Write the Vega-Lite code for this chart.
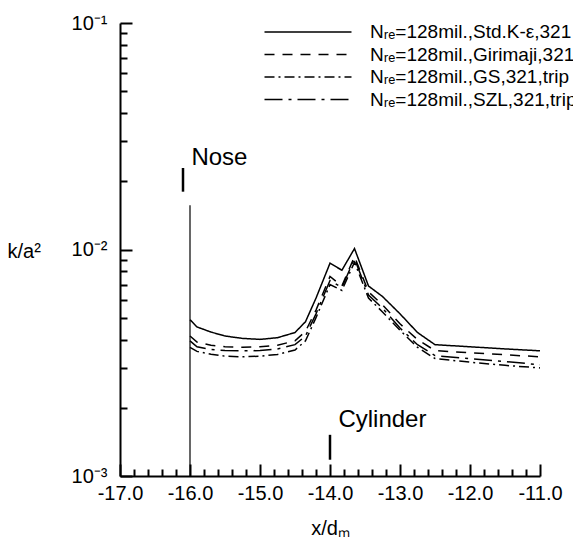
{
  "$schema": "https://vega.github.io/schema/vega-lite/v6.json",
  "width": 420,
  "height": 453,
  "autosize": {"type": "none"},
  "padding": {"left": 120, "top": 23, "right": 33, "bottom": 82},
  "background": "white",
  "config": {
    "view": {"stroke": null},
    "font": "Liberation Sans",
    "axis": {
      "domainColor": "black",
      "domainWidth": 2,
      "labelColor": "black",
      "labelFont": "Liberation Sans",
      "labelFontSize": 20,
      "titleColor": "black",
      "titleFont": "Liberation Sans",
      "titleFontSize": 20,
      "titleFontWeight": "normal",
      "grid": false
    },
    "legend": {
      "orient": "none",
      "legendX": 176,
      "legendY": -3,
      "title": null,
      "padding": 0,
      "symbolType": "M-4,0H4",
      "symbolSize": 473,
      "symbolStrokeWidth": 1.5,
      "symbolStrokeColor": "black",
      "symbolFillColor": "transparent",
      "labelFont": "Liberation Sans",
      "labelFontSize": 19,
      "labelColor": "black",
      "labelOffset": 50,
      "labelLimit": 0,
      "rowPadding": 0.5
    }
  },
  "resolve": {"axis": {"x": "independent", "y": "independent"}},
  "datasets": {
    "curves": [
      {"series": "Nᵣₑ=128mil.,Std.K-ε,321", "x": -16.0, "k": 0.0049},
      {"series": "Nᵣₑ=128mil.,Std.K-ε,321", "x": -15.9, "k": 0.00455},
      {"series": "Nᵣₑ=128mil.,Std.K-ε,321", "x": -15.7, "k": 0.00432},
      {"series": "Nᵣₑ=128mil.,Std.K-ε,321", "x": -15.5, "k": 0.00415},
      {"series": "Nᵣₑ=128mil.,Std.K-ε,321", "x": -15.25, "k": 0.00405},
      {"series": "Nᵣₑ=128mil.,Std.K-ε,321", "x": -15.0, "k": 0.00401},
      {"series": "Nᵣₑ=128mil.,Std.K-ε,321", "x": -14.75, "k": 0.00408},
      {"series": "Nᵣₑ=128mil.,Std.K-ε,321", "x": -14.5, "k": 0.0043},
      {"series": "Nᵣₑ=128mil.,Std.K-ε,321", "x": -14.35, "k": 0.0048},
      {"series": "Nᵣₑ=128mil.,Std.K-ε,321", "x": -14.2, "k": 0.0061},
      {"series": "Nᵣₑ=128mil.,Std.K-ε,321", "x": -14.0, "k": 0.0087},
      {"series": "Nᵣₑ=128mil.,Std.K-ε,321", "x": -13.83, "k": 0.0081},
      {"series": "Nᵣₑ=128mil.,Std.K-ε,321", "x": -13.65, "k": 0.0101},
      {"series": "Nᵣₑ=128mil.,Std.K-ε,321", "x": -13.45, "k": 0.0069},
      {"series": "Nᵣₑ=128mil.,Std.K-ε,321", "x": -13.25, "k": 0.0062},
      {"series": "Nᵣₑ=128mil.,Std.K-ε,321", "x": -13.0, "k": 0.0052},
      {"series": "Nᵣₑ=128mil.,Std.K-ε,321", "x": -12.75, "k": 0.0043},
      {"series": "Nᵣₑ=128mil.,Std.K-ε,321", "x": -12.5, "k": 0.0038},
      {"series": "Nᵣₑ=128mil.,Std.K-ε,321", "x": -12.0, "k": 0.00372},
      {"series": "Nᵣₑ=128mil.,Std.K-ε,321", "x": -11.5, "k": 0.00364},
      {"series": "Nᵣₑ=128mil.,Std.K-ε,321", "x": -11.0, "k": 0.00357},

      {"series": "Nᵣₑ=128mil.,Girimaji,321", "x": -16.0, "k": 0.00415},
      {"series": "Nᵣₑ=128mil.,Girimaji,321", "x": -15.9, "k": 0.0039},
      {"series": "Nᵣₑ=128mil.,Girimaji,321", "x": -15.7, "k": 0.00378},
      {"series": "Nᵣₑ=128mil.,Girimaji,321", "x": -15.5, "k": 0.00372},
      {"series": "Nᵣₑ=128mil.,Girimaji,321", "x": -15.25, "k": 0.0037},
      {"series": "Nᵣₑ=128mil.,Girimaji,321", "x": -15.0, "k": 0.00372},
      {"series": "Nᵣₑ=128mil.,Girimaji,321", "x": -14.75, "k": 0.00378},
      {"series": "Nᵣₑ=128mil.,Girimaji,321", "x": -14.5, "k": 0.00395},
      {"series": "Nᵣₑ=128mil.,Girimaji,321", "x": -14.35, "k": 0.00435},
      {"series": "Nᵣₑ=128mil.,Girimaji,321", "x": -14.2, "k": 0.0054},
      {"series": "Nᵣₑ=128mil.,Girimaji,321", "x": -14.0, "k": 0.0076},
      {"series": "Nᵣₑ=128mil.,Girimaji,321", "x": -13.83, "k": 0.0069},
      {"series": "Nᵣₑ=128mil.,Girimaji,321", "x": -13.65, "k": 0.0093},
      {"series": "Nᵣₑ=128mil.,Girimaji,321", "x": -13.45, "k": 0.0065},
      {"series": "Nᵣₑ=128mil.,Girimaji,321", "x": -13.25, "k": 0.0057},
      {"series": "Nᵣₑ=128mil.,Girimaji,321", "x": -13.0, "k": 0.0047},
      {"series": "Nᵣₑ=128mil.,Girimaji,321", "x": -12.75, "k": 0.004},
      {"series": "Nᵣₑ=128mil.,Girimaji,321", "x": -12.5, "k": 0.00358},
      {"series": "Nᵣₑ=128mil.,Girimaji,321", "x": -12.0, "k": 0.0035},
      {"series": "Nᵣₑ=128mil.,Girimaji,321", "x": -11.5, "k": 0.00343},
      {"series": "Nᵣₑ=128mil.,Girimaji,321", "x": -11.0, "k": 0.00336},

      {"series": "Nᵣₑ=128mil.,GS,321,trip", "x": -16.0, "k": 0.0037},
      {"series": "Nᵣₑ=128mil.,GS,321,trip", "x": -15.9, "k": 0.00355},
      {"series": "Nᵣₑ=128mil.,GS,321,trip", "x": -15.7, "k": 0.00345},
      {"series": "Nᵣₑ=128mil.,GS,321,trip", "x": -15.5, "k": 0.00338},
      {"series": "Nᵣₑ=128mil.,GS,321,trip", "x": -15.25, "k": 0.00336},
      {"series": "Nᵣₑ=128mil.,GS,321,trip", "x": -15.0, "k": 0.00338},
      {"series": "Nᵣₑ=128mil.,GS,321,trip", "x": -14.75, "k": 0.00344},
      {"series": "Nᵣₑ=128mil.,GS,321,trip", "x": -14.5, "k": 0.0036},
      {"series": "Nᵣₑ=128mil.,GS,321,trip", "x": -14.35, "k": 0.00395},
      {"series": "Nᵣₑ=128mil.,GS,321,trip", "x": -14.2, "k": 0.005},
      {"series": "Nᵣₑ=128mil.,GS,321,trip", "x": -14.0, "k": 0.007},
      {"series": "Nᵣₑ=128mil.,GS,321,trip", "x": -13.83, "k": 0.0066},
      {"series": "Nᵣₑ=128mil.,GS,321,trip", "x": -13.65, "k": 0.0088},
      {"series": "Nᵣₑ=128mil.,GS,321,trip", "x": -13.45, "k": 0.0061},
      {"series": "Nᵣₑ=128mil.,GS,321,trip", "x": -13.25, "k": 0.0053},
      {"series": "Nᵣₑ=128mil.,GS,321,trip", "x": -13.0, "k": 0.0044},
      {"series": "Nᵣₑ=128mil.,GS,321,trip", "x": -12.75, "k": 0.0037},
      {"series": "Nᵣₑ=128mil.,GS,321,trip", "x": -12.5, "k": 0.0033},
      {"series": "Nᵣₑ=128mil.,GS,321,trip", "x": -12.0, "k": 0.00318},
      {"series": "Nᵣₑ=128mil.,GS,321,trip", "x": -11.5, "k": 0.00308},
      {"series": "Nᵣₑ=128mil.,GS,321,trip", "x": -11.0, "k": 0.003},

      {"series": "Nᵣₑ=128mil.,SZL,321,trip", "x": -16.0, "k": 0.00395},
      {"series": "Nᵣₑ=128mil.,SZL,321,trip", "x": -15.9, "k": 0.00372},
      {"series": "Nᵣₑ=128mil.,SZL,321,trip", "x": -15.7, "k": 0.00362},
      {"series": "Nᵣₑ=128mil.,SZL,321,trip", "x": -15.5, "k": 0.00358},
      {"series": "Nᵣₑ=128mil.,SZL,321,trip", "x": -15.25, "k": 0.00357},
      {"series": "Nᵣₑ=128mil.,SZL,321,trip", "x": -15.0, "k": 0.00358},
      {"series": "Nᵣₑ=128mil.,SZL,321,trip", "x": -14.75, "k": 0.00364},
      {"series": "Nᵣₑ=128mil.,SZL,321,trip", "x": -14.5, "k": 0.0038},
      {"series": "Nᵣₑ=128mil.,SZL,321,trip", "x": -14.35, "k": 0.00415},
      {"series": "Nᵣₑ=128mil.,SZL,321,trip", "x": -14.2, "k": 0.0052},
      {"series": "Nᵣₑ=128mil.,SZL,321,trip", "x": -14.0, "k": 0.0073},
      {"series": "Nᵣₑ=128mil.,SZL,321,trip", "x": -13.83, "k": 0.0068},
      {"series": "Nᵣₑ=128mil.,SZL,321,trip", "x": -13.65, "k": 0.0091},
      {"series": "Nᵣₑ=128mil.,SZL,321,trip", "x": -13.45, "k": 0.0063},
      {"series": "Nᵣₑ=128mil.,SZL,321,trip", "x": -13.25, "k": 0.0055},
      {"series": "Nᵣₑ=128mil.,SZL,321,trip", "x": -13.0, "k": 0.0045},
      {"series": "Nᵣₑ=128mil.,SZL,321,trip", "x": -12.75, "k": 0.0038},
      {"series": "Nᵣₑ=128mil.,SZL,321,trip", "x": -12.5, "k": 0.0034},
      {"series": "Nᵣₑ=128mil.,SZL,321,trip", "x": -12.0, "k": 0.0033},
      {"series": "Nᵣₑ=128mil.,SZL,321,trip", "x": -11.5, "k": 0.0032},
      {"series": "Nᵣₑ=128mil.,SZL,321,trip", "x": -11.0, "k": 0.0031}
    ],
    "noseLine": [{"x": -16.0, "k": 0.001, "k2": 0.0157}],
    "markers": [
      {"x": -16.1, "k": 0.018, "k2": 0.0229},
      {"x": -14.0, "k": 0.00118, "k2": 0.00152}
    ],
    "labels": [
      {"x": -15.98, "k": 0.0236, "label": "Nose"},
      {"x": -13.88, "k": 0.00164, "label": "Cylinder"}
    ]
  },
  "layer": [
    {
      "data": {"name": "curves"},
      "mark": {"type": "line", "color": "black", "strokeWidth": 1.5},
      "encoding": {
        "x": {
          "field": "x", "type": "quantitative",
          "scale": {"domain": [-17, -11], "nice": false, "zero": false},
          "axis": {
            "orient": "bottom",
            "title": "x/dₘ",
            "values": [-17, -16, -15, -14, -13, -12, -11],
            "labelExpr": "replace(format(datum.value, '.1f'), '−', '-')",
            "ticks": false,
            "tickSize": 0,
            "labelPadding": 7,
            "labelFlush": false,
            "labelOverlap": false,
            "titlePadding": 15
          }
        },
        "y": {
          "field": "k", "type": "quantitative",
          "scale": {"type": "log", "domain": [0.001, 0.1], "nice": false},
          "axis": {
            "orient": "left",
            "title": "k/a²",
            "titleAngle": 0,
            "titleAlign": "left",
            "titleBaseline": "middle",
            "titleX": -113,
            "titleY": 228,
            "values": [0.001, 0.01, 0.1],
            "labelExpr": "datum.value > 0.05 ? '10⁻¹' : (datum.value > 0.005 ? '10⁻²' : '10⁻³')",
            "ticks": false,
            "tickSize": 0,
            "labelPadding": 13,
            "labelFlush": false,
            "labelOverlap": false
          }
        },
        "strokeDash": {
          "field": "series", "type": "nominal",
          "scale": {
            "domain": ["Nᵣₑ=128mil.,Std.K-ε,321", "Nᵣₑ=128mil.,Girimaji,321", "Nᵣₑ=128mil.,GS,321,trip", "Nᵣₑ=128mil.,SZL,321,trip"],
            "range": [[1, 0], [10, 8], [10, 4, 2, 4], [18, 6, 3, 6]]
          }
        }
      }
    },
    {
      "data": {"name": "noseLine"},
      "mark": {"type": "rule", "color": "black", "strokeWidth": 1.2},
      "encoding": {
        "x": {
          "field": "x", "type": "quantitative",
          "axis": {
            "orient": "top",
            "offset": -453,
            "zindex": 2,
            "title": null,
            "domain": false,
            "labels": false,
            "ticks": true,
            "tickColor": "black",
            "tickWidth": 2,
            "values": [-17, -16, -15, -14, -13, -12, -11],
            "tickSize": 12
          }
        },
        "y": {
          "field": "k", "type": "quantitative",
          "axis": {
            "orient": "right",
            "offset": -420,
            "zindex": 2,
            "title": null,
            "domain": false,
            "labels": false,
            "ticks": true,
            "tickColor": "black",
            "tickWidth": 2,
            "values": [0.001, 0.01, 0.1],
            "tickSize": 12
          }
        },
        "y2": {"field": "k2"}
      }
    },
    {
      "data": {"name": "markers"},
      "mark": {"type": "rule", "color": "black", "strokeWidth": 2.5},
      "encoding": {
        "x": {
          "field": "x", "type": "quantitative",
          "axis": {
            "orient": "top",
            "offset": -453,
            "zindex": 2,
            "title": null,
            "domain": false,
            "labels": false,
            "ticks": true,
            "tickColor": "black",
            "tickWidth": 2,
            "values": [-16.8, -16.6, -16.4, -16.2, -15.8, -15.6, -15.4, -15.2, -14.8, -14.6, -14.4, -14.2, -13.8, -13.6, -13.4, -13.2, -12.8, -12.6, -12.4, -12.2, -11.8, -11.6, -11.4, -11.2],
            "tickSize": 7
          }
        },
        "y": {
          "field": "k", "type": "quantitative",
          "axis": {
            "orient": "right",
            "offset": -420,
            "zindex": 2,
            "title": null,
            "domain": false,
            "labels": false,
            "ticks": true,
            "tickColor": "black",
            "tickWidth": 2,
            "values": [0.002, 0.003, 0.004, 0.005, 0.006, 0.007, 0.008, 0.009, 0.02, 0.03, 0.04, 0.05, 0.06, 0.07, 0.08, 0.09],
            "tickSize": 7
          }
        },
        "y2": {"field": "k2"}
      }
    },
    {
      "data": {"name": "labels"},
      "mark": {"type": "text", "color": "black", "font": "Liberation Sans", "fontSize": 24, "align": "left", "baseline": "alphabetic"},
      "encoding": {
        "x": {"field": "x", "type": "quantitative", "axis": null},
        "y": {"field": "k", "type": "quantitative", "axis": null},
        "text": {"field": "label"}
      }
    }
  ]
}
